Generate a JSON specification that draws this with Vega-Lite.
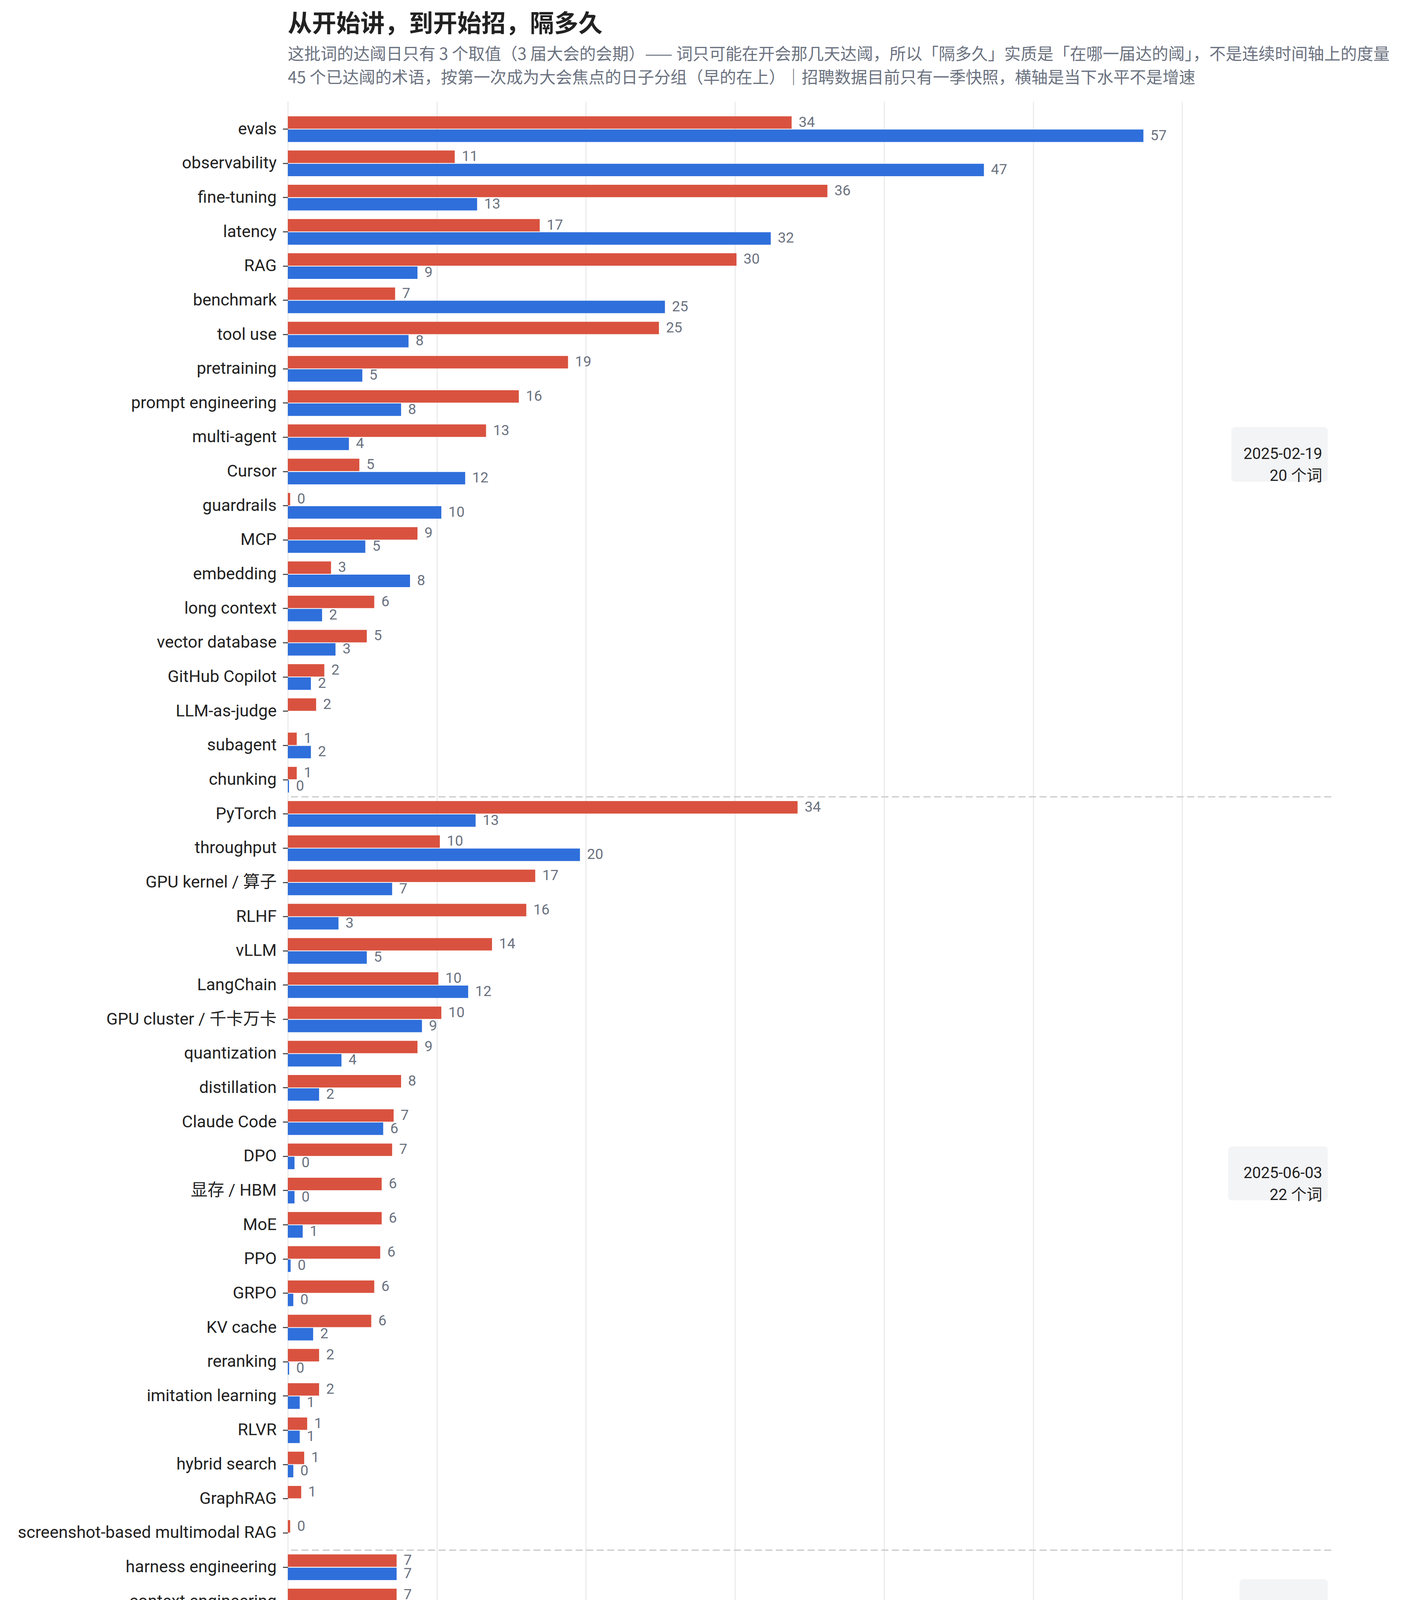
{
  "$schema": "https://vega.github.io/schema/vega-lite/v6.json",
  "autosize": {"type": "none"},
  "padding": {"left": 737, "top": 260, "right": 235, "bottom": 231},
  "width": 2672,
  "height": 3998,
  "title": {
    "text": "从开始讲，到开始招，隔多久",
    "subtitle": [
      "这批词的达阈日只有 3 个取值（3 届大会的会期）—— 词只可能在开会那几天达阈，所以「隔多久」实质是「在哪一届达的阈」，不是连续时间轴上的度量",
      "45 个已达阈的术语，按第一次成为大会焦点的日子分组（早的在上）｜招聘数据目前只有一季快照，横轴是当下水平不是增速"
    ],
    "anchor": "start",
    "frame": "group",
    "font": "Noto Sans CJK SC",
    "fontSize": 62,
    "fontWeight": "bold",
    "color": "#222222",
    "subtitleFont": "Noto Sans CJK SC",
    "subtitleFontSize": 42,
    "subtitleColor": "#6b7280",
    "subtitleLineHeight": 60,
    "subtitlePadding": 25,
    "offset": 38
  },
  "datasets": {
    "share": [
      {"term": "evals", "country": "中国", "pct": 33.8},
      {"term": "evals", "country": "美国", "pct": 57.4},
      {"term": "observability", "country": "中国", "pct": 11.2},
      {"term": "observability", "country": "美国", "pct": 46.7},
      {"term": "fine-tuning", "country": "中国", "pct": 36.2},
      {"term": "fine-tuning", "country": "美国", "pct": 12.7},
      {"term": "latency", "country": "中国", "pct": 16.9},
      {"term": "latency", "country": "美国", "pct": 32.4},
      {"term": "RAG", "country": "中国", "pct": 30.1},
      {"term": "RAG", "country": "美国", "pct": 8.7},
      {"term": "benchmark", "country": "中国", "pct": 7.2},
      {"term": "benchmark", "country": "美国", "pct": 25.3},
      {"term": "tool use", "country": "中国", "pct": 24.9},
      {"term": "tool use", "country": "美国", "pct": 8.1},
      {"term": "pretraining", "country": "中国", "pct": 18.8},
      {"term": "pretraining", "country": "美国", "pct": 5.0},
      {"term": "prompt engineering", "country": "中国", "pct": 15.5},
      {"term": "prompt engineering", "country": "美国", "pct": 7.6},
      {"term": "multi-agent", "country": "中国", "pct": 13.3},
      {"term": "multi-agent", "country": "美国", "pct": 4.1},
      {"term": "Cursor", "country": "中国", "pct": 4.8},
      {"term": "Cursor", "country": "美国", "pct": 11.9},
      {"term": "guardrails", "country": "中国", "pct": 0.16},
      {"term": "guardrails", "country": "美国", "pct": 10.3},
      {"term": "MCP", "country": "中国", "pct": 8.7},
      {"term": "MCP", "country": "美国", "pct": 5.2},
      {"term": "embedding", "country": "中国", "pct": 2.9},
      {"term": "embedding", "country": "美国", "pct": 8.2},
      {"term": "long context", "country": "中国", "pct": 5.8},
      {"term": "long context", "country": "美国", "pct": 2.3},
      {"term": "vector database", "country": "中国", "pct": 5.3},
      {"term": "vector database", "country": "美国", "pct": 3.2},
      {"term": "GitHub Copilot", "country": "中国", "pct": 2.45},
      {"term": "GitHub Copilot", "country": "美国", "pct": 1.55},
      {"term": "LLM-as-judge", "country": "中国", "pct": 1.9},
      {"term": "subagent", "country": "中国", "pct": 0.6},
      {"term": "subagent", "country": "美国", "pct": 1.55},
      {"term": "chunking", "country": "中国", "pct": 0.6},
      {"term": "chunking", "country": "美国", "pct": 0.08},
      {"term": "PyTorch", "country": "中国", "pct": 34.2},
      {"term": "PyTorch", "country": "美国", "pct": 12.6},
      {"term": "throughput", "country": "中国", "pct": 10.2},
      {"term": "throughput", "country": "美国", "pct": 19.6},
      {"term": "GPU kernel / 算子", "country": "中国", "pct": 16.6},
      {"term": "GPU kernel / 算子", "country": "美国", "pct": 7.0},
      {"term": "RLHF", "country": "中国", "pct": 16.0},
      {"term": "RLHF", "country": "美国", "pct": 3.4},
      {"term": "vLLM", "country": "中国", "pct": 13.7},
      {"term": "vLLM", "country": "美国", "pct": 5.3},
      {"term": "LangChain", "country": "中国", "pct": 10.1},
      {"term": "LangChain", "country": "美国", "pct": 12.1},
      {"term": "GPU cluster / 千卡万卡", "country": "中国", "pct": 10.3},
      {"term": "GPU cluster / 千卡万卡", "country": "美国", "pct": 9.0},
      {"term": "quantization", "country": "中国", "pct": 8.7},
      {"term": "quantization", "country": "美国", "pct": 3.6},
      {"term": "distillation", "country": "中国", "pct": 7.6},
      {"term": "distillation", "country": "美国", "pct": 2.1},
      {"term": "Claude Code", "country": "中国", "pct": 7.1},
      {"term": "Claude Code", "country": "美国", "pct": 6.4},
      {"term": "DPO", "country": "中国", "pct": 7.0},
      {"term": "DPO", "country": "美国", "pct": 0.45},
      {"term": "显存 / HBM", "country": "中国", "pct": 6.3},
      {"term": "显存 / HBM", "country": "美国", "pct": 0.45},
      {"term": "MoE", "country": "中国", "pct": 6.3},
      {"term": "MoE", "country": "美国", "pct": 1.0},
      {"term": "PPO", "country": "中国", "pct": 6.2},
      {"term": "PPO", "country": "美国", "pct": 0.19},
      {"term": "GRPO", "country": "中国", "pct": 5.8},
      {"term": "GRPO", "country": "美国", "pct": 0.37},
      {"term": "KV cache", "country": "中国", "pct": 5.6},
      {"term": "KV cache", "country": "美国", "pct": 1.7},
      {"term": "reranking", "country": "中国", "pct": 2.1},
      {"term": "reranking", "country": "美国", "pct": 0.09},
      {"term": "imitation learning", "country": "中国", "pct": 2.1},
      {"term": "imitation learning", "country": "美国", "pct": 0.8},
      {"term": "RLVR", "country": "中国", "pct": 1.3},
      {"term": "RLVR", "country": "美国", "pct": 0.8},
      {"term": "hybrid search", "country": "中国", "pct": 1.1},
      {"term": "hybrid search", "country": "美国", "pct": 0.37},
      {"term": "GraphRAG", "country": "中国", "pct": 0.9},
      {"term": "screenshot-based multimodal RAG", "country": "中国", "pct": 0.16},
      {"term": "harness engineering", "country": "中国", "pct": 7.3},
      {"term": "harness engineering", "country": "美国", "pct": 7.3},
      {"term": "context engineering", "country": "中国", "pct": 7.3},
      {"term": "context engineering", "country": "美国", "pct": 1.1},
      {"term": "spec-driven development", "country": "中国", "pct": 0.1}
    ],
    "breaks": [
      {"term": "chunking"},
      {"term": "screenshot-based multimodal RAG"}
    ],
    "groups": [
      {"term": "multi-agent", "grp": "1", "label": "2025-02-19\n20 个词"},
      {"term": "DPO", "grp": "2", "label": "2025-06-03\n22 个词"},
      {"term": "context engineering", "grp": "3", "label": "2025-11-19\n3 个词"}
    ]
  },
  "encoding": {
    "y": {
      "field": "term",
      "type": "nominal",
      "title": null,
      "scale": {
        "domain": ["evals", "observability", "fine-tuning", "latency", "RAG", "benchmark", "tool use", "pretraining", "prompt engineering", "multi-agent", "Cursor", "guardrails", "MCP", "embedding", "long context", "vector database", "GitHub Copilot", "LLM-as-judge", "subagent", "chunking", "PyTorch", "throughput", "GPU kernel / 算子", "RLHF", "vLLM", "LangChain", "GPU cluster / 千卡万卡", "quantization", "distillation", "Claude Code", "DPO", "显存 / HBM", "MoE", "PPO", "GRPO", "KV cache", "reranking", "imitation learning", "RLVR", "hybrid search", "GraphRAG", "screenshot-based multimodal RAG", "harness engineering", "context engineering", "spec-driven development"],
        "paddingInner": 0.25,
        "paddingOuter": 0.43
      },
      "axis": {
        "labelFontSize": 43,
        "labelColor": "#222222",
        "labelLimit": 2000,
        "labelPadding": 16,
        "tickColor": "#333333",
        "tickSize": 13,
        "tickWidth": 2.5,
        "domain": false,
        "grid": false
      }
    }
  },
  "layer": [
    {
      "data": {"name": "share"},
      "mark": {"type": "bar"},
      "encoding": {
        "x": {
          "field": "pct",
          "type": "quantitative",
          "scale": {"domain": [0, 70], "nice": false},
          "title": "现在有百分之几的合格岗位提到它",
          "axis": {
            "values": [0, 10, 20, 30, 40, 50, 60],
            "labelFlush": false,
            "grid": true,
            "gridColor": "#e8e8e8",
            "gridWidth": 2.5,
            "domainColor": "#e5e5e5",
            "domainWidth": 3.5,
            "tickColor": "#6b7280",
            "tickSize": 15,
            "tickWidth": 2.5,
            "labelFontSize": 41,
            "labelColor": "#6b7280",
            "labelPadding": 16,
            "titleFont": "Noto Sans CJK SC",
            "titleFontSize": 48,
            "titleFontWeight": "normal",
            "titleColor": "#6b7280",
            "titlePadding": 16
          }
        },
        "yOffset": {
          "field": "country",
          "type": "nominal",
          "scale": {"domain": ["中国", "美国"], "paddingInner": 0.06}
        },
        "color": {
          "field": "country",
          "type": "nominal",
          "scale": {"domain": ["美国", "中国"], "range": ["#2f6fdb", "#d9523f"]},
          "legend": {
            "title": null,
            "orient": "none",
            "direction": "horizontal",
            "legendX": 1094,
            "legendY": 4122,
            "padding": 0,
            "symbolType": "M-1,-0.36L1,-0.36L1,0.36L-1,0.36Z",
            "symbolSize": 6889,
            "symbolStrokeWidth": 0,
            "labelFont": "Noto Sans CJK SC",
            "labelFontSize": 39,
            "labelColor": "#222222",
            "labelOffset": 36,
            "columnPadding": 88
          }
        }
      }
    },
    {
      "data": {"name": "share"},
      "mark": {"type": "text", "align": "left", "baseline": "middle", "dx": 18, "fontSize": 37, "color": "#6b7280"},
      "encoding": {
        "x": {"field": "pct", "type": "quantitative"},
        "yOffset": {"field": "country", "type": "nominal"},
        "text": {"field": "pct", "type": "quantitative", "format": ".0f"}
      }
    },
    {
      "data": {"name": "breaks"},
      "mark": {"type": "rule", "color": "#cccccc", "strokeWidth": 3.3, "strokeDash": [18, 9]},
      "encoding": {
        "y": {"field": "term", "type": "nominal", "bandPosition": 1.1667}
      }
    },
    {
      "data": {"name": "groups"},
      "transform": [{"filter": "datum.grp != '3'"}],
      "mark": {"type": "point", "filled": true, "color": "#f3f4f6", "opacity": 1, "size": 40000, "strokeWidth": 0},
      "encoding": {
        "x": {"datum": 69.77},
        "y": {"field": "term", "type": "nominal", "bandPosition": 1.1667},
        "shape": {
          "field": "grp",
          "type": "nominal",
          "scale": {
            "domain": ["1", "2"],
            "range": [
              "M-2.37,-0.7L-0.1,-0.7Q0,-0.7,0,-0.6L0,0.6Q0,0.7,-0.1,0.7L-2.37,0.7Q-2.47,0.7,-2.47,0.6L-2.47,-0.6Q-2.47,-0.7,-2.37,-0.7Z",
              "M-2.45,-0.69L-0.1,-0.69Q0,-0.69,0,-0.59L0,0.59Q0,0.69,-0.1,0.69L-2.45,0.69Q-2.55,0.69,-2.55,0.59L-2.55,-0.59Q-2.55,-0.69,-2.45,-0.69Z"
            ]
          },
          "legend": null
        }
      }
    },
    {
      "data": {"name": "groups"},
      "transform": [{"filter": "datum.grp != '3'"}],
      "mark": {"type": "text", "align": "right", "baseline": "middle", "fontSize": 40, "lineHeight": 56, "lineBreak": "\n", "color": "#222222"},
      "encoding": {
        "x": {"datum": 69.4},
        "y": {"field": "term", "type": "nominal", "bandPosition": 1.1667},
        "text": {"field": "label"}
      }
    },
    {
      "data": {"name": "groups"},
      "transform": [{"filter": "datum.grp == '3'"}],
      "mark": {"type": "point", "filled": true, "color": "#f3f4f6", "opacity": 1, "size": 40000, "strokeWidth": 0, "shape": "M-2.16,-0.7L-0.1,-0.7Q0,-0.7,0,-0.6L0,0.6Q0,0.7,-0.1,0.7L-2.16,0.7Q-2.26,0.7,-2.26,0.6L-2.26,-0.6Q-2.26,-0.7,-2.16,-0.7Z"},
      "encoding": {
        "x": {"datum": 69.77},
        "y": {"field": "term", "type": "nominal", "bandPosition": 0.7}
      }
    },
    {
      "data": {"name": "groups"},
      "transform": [{"filter": "datum.grp == '3'"}],
      "mark": {"type": "text", "align": "right", "baseline": "middle", "fontSize": 40, "lineHeight": 56, "lineBreak": "\n", "color": "#222222"},
      "encoding": {
        "x": {"datum": 69.4},
        "y": {"field": "term", "type": "nominal", "bandPosition": 0.7},
        "text": {"field": "label"}
      }
    }
  ],
  "config": {
    "font": "Roboto, Noto Sans CJK SC",
    "view": {"stroke": null}
  }
}
